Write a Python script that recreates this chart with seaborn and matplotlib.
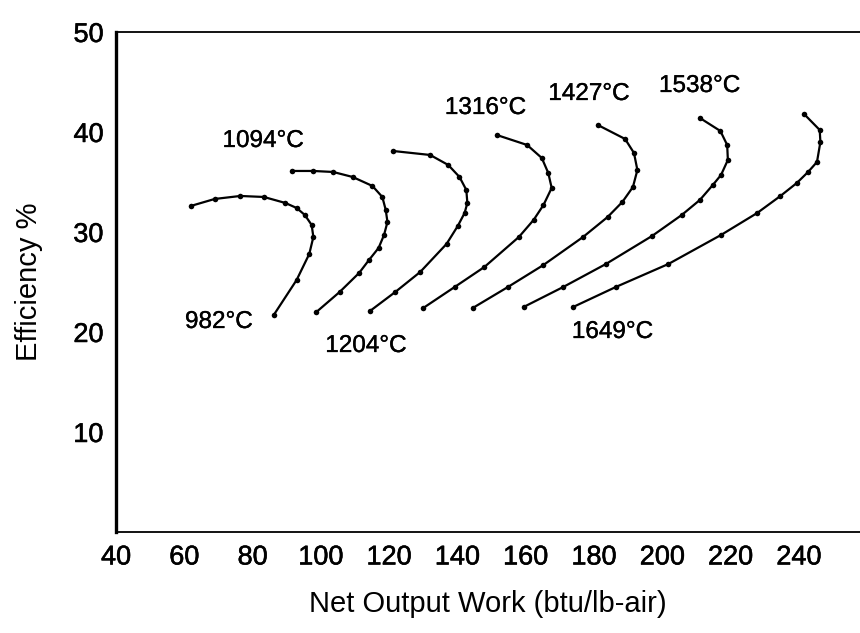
import pandas as pd
import numpy as np
import matplotlib
matplotlib.use('Agg')
import matplotlib.pyplot as plt
import matplotlib.patheffects as pe
import seaborn as sns

# curve data: net output work (btu/lb-air) vs efficiency (%)
t982_x = [61.9, 68.9, 76.4, 83.3, 89.6, 92.9, 95.3, 97.3, 97.8, 96.6, 92.9, 86.2]
t982_y = [32.6, 33.3, 33.6, 33.5, 32.9, 32.4, 31.7, 30.7, 29.5, 27.8, 25.2, 21.7]

t1094_x = [91.5, 97.8, 103.6, 109.3, 115.1, 118.0, 119.0, 119.5, 118.5, 116.9, 114.1, 111.2, 105.5, 98.7]
t1094_y = [36.1, 36.1, 36.0, 35.5, 34.6, 33.5, 32.2, 31.0, 29.7, 28.4, 27.2, 25.9, 24.0, 22.0]

t1204_x = [121.1, 132.0, 137.3, 140.6, 142.6, 142.9, 142.1, 140.1, 136.8, 129.1, 121.8, 114.4]
t1204_y = [38.1, 37.7, 36.7, 35.5, 34.2, 32.9, 31.9, 30.6, 28.8, 26.0, 24.0, 22.1]

t1316_x = [151.5, 160.4, 164.7, 166.6, 167.6, 165.2, 162.3, 158.0, 147.9, 139.2, 130.0]
t1316_y = [39.7, 38.7, 37.4, 35.9, 34.4, 32.7, 31.2, 29.5, 26.5, 24.5, 22.4]

t1427_x = [181.1, 189.1, 191.7, 192.7, 191.4, 188.3, 184.0, 176.8, 165.2, 154.8, 144.5]
t1427_y = [40.7, 39.3, 37.9, 36.2, 34.5, 33.0, 31.5, 29.5, 26.7, 24.5, 22.4]

t1538_x = [211.0, 217.0, 219.0, 219.2, 217.2, 214.8, 211.0, 205.7, 197.0, 183.5, 171.0, 159.4]
t1538_y = [41.4, 40.1, 38.7, 37.2, 35.7, 34.7, 33.2, 31.7, 29.6, 26.8, 24.5, 22.5]

t1649_x = [241.5, 246.1, 246.3, 245.3, 242.7, 239.4, 234.6, 227.8, 217.2, 201.8, 186.4, 173.9]
t1649_y = [41.8, 40.2, 39.0, 37.0, 36.0, 34.9, 33.6, 31.9, 29.7, 26.8, 24.5, 22.5]

labels = ['982°C', '1094°C', '1204°C', '1316°C', '1427°C', '1538°C', '1649°C']
label_x = [70.1, 83.1, 113.2, 148.2, 178.5, 210.9, 185.4]
label_y = [21.0, 39.1, 18.6, 42.4, 43.8, 44.6, 20.0]

curves_x = [t982_x, t1094_x, t1204_x, t1316_x, t1427_x, t1538_x, t1649_x]
curves_y = [t982_y, t1094_y, t1204_y, t1316_y, t1427_y, t1538_y, t1649_y]

# long table for seaborn
rows = []
for lab, xs, ys in zip(labels, curves_x, curves_y):
    for i, (xv, yv) in enumerate(zip(xs, ys)):
        rows.append({'Temp': lab, 'order': i, 'Work': xv, 'Eff': yv})
df = pd.DataFrame(rows)

sns.set_style('white')
plt.rcParams['font.family'] = ['Liberation Sans', 'DejaVu Sans']

fig = plt.figure(figsize=(8.6, 6.33), dpi=100)
ax = fig.add_axes([0.1349, 0.1596, 0.8651, 0.7899])

sns.lineplot(data=df, x='Work', y='Eff', hue='Temp', sort=False, estimator=None,
             palette={l: 'black' for l in labels}, marker='o', markersize=4,
             markeredgewidth=0, linewidth=1.6, legend=False, ax=ax)

# scanned text in the original looks a little heavier than regular weight
thin = [pe.withStroke(linewidth=0.25, foreground='black')]
thick = [pe.withStroke(linewidth=0.4, foreground='black')]

for lab, lx, ly in zip(labels, label_x, label_y):
    ax.text(lx, ly, lab, fontsize=17.5, ha='center', va='center', color='black',
            path_effects=thin)

ax.set_xlim(40, 257.9)
ax.set_ylim(0, 50)
ax.set_xticks(np.arange(40, 241, 20))
ax.set_yticks([10, 20, 30, 40, 50])
ax.set_yticks([5, 15, 25, 35, 45], minor=True)
ax.tick_params(axis='both', which='both', direction='in', colors='black', labelsize=19.5)
ax.tick_params(axis='y', which='both', length=7, width=1.2, pad=9)
ax.tick_params(axis='x', which='major', length=4, width=1.2, pad=9)
for t in ax.get_xticklabels() + ax.get_yticklabels():
    t.set_path_effects(thick)

ax.spines['right'].set_visible(False)
ax.spines['left'].set_linewidth(2.4)
ax.spines['bottom'].set_linewidth(1.3)
ax.spines['top'].set_linewidth(1.3)
for s in ['left', 'bottom', 'top']:
    ax.spines[s].set_color('black')

ax.set_xlabel('Net Output Work (btu/lb-air)', fontsize=21, color='black', labelpad=14)
ax.set_ylabel('Efficiency %', fontsize=21, color='black', labelpad=22)

fig.savefig('out.png', dpi=100)
